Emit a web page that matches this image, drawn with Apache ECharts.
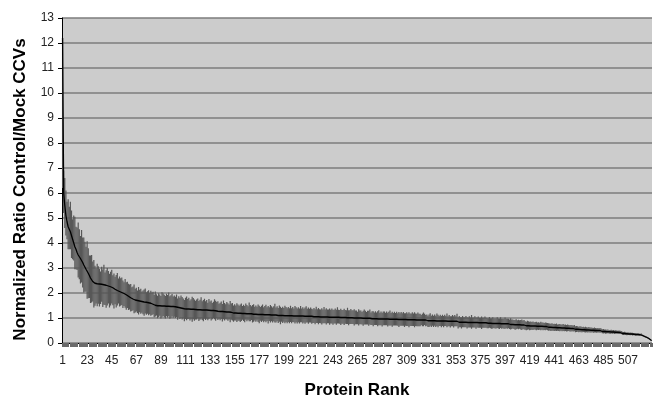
<!DOCTYPE html>
<html>
<head>
<meta charset="utf-8">
<script src="https://cdn.jsdelivr.net/npm/echarts@6/dist/echarts.min.js"></script>
<style>
html, body { margin: 0; padding: 0; background: #fff; }
#main { width: 655px; height: 399px; }
</style>
</head>
<body>
<div id="main"></div>
<script>
// normalized ratio per protein, ranked
var ratio = [
12.2, 6.0, 5.5, 5.1, 4.85, 4.65, 4.55, 4.45, 4.3, 4.15, 4.0, 3.85, 3.75, 3.62, 3.52, 3.45, 3.38, 3.32, 3.22, 3.12,
3.05, 2.95, 2.87, 2.79, 2.7, 2.6, 2.52, 2.46, 2.42, 2.39, 2.38, 2.37, 2.37, 2.36, 2.36, 2.35, 2.34, 2.33, 2.32, 2.31,
2.30, 2.28, 2.27, 2.25, 2.23, 2.21, 2.18, 2.15, 2.12, 2.10, 2.08, 2.06, 2.04, 2.02, 2.00, 1.98, 1.96, 1.93, 1.90, 1.87,
1.84, 1.81, 1.78, 1.76, 1.74, 1.72, 1.71, 1.70, 1.69, 1.68, 1.67, 1.66, 1.65, 1.64, 1.63, 1.63, 1.62, 1.61, 1.60, 1.59,
1.57, 1.55, 1.53, 1.51, 1.50, 1.49, 1.49, 1.49, 1.48, 1.48, 1.48, 1.48, 1.48, 1.47, 1.47, 1.47, 1.47, 1.46, 1.46, 1.46,
1.45, 1.45, 1.44, 1.43, 1.42, 1.41, 1.40, 1.39, 1.38, 1.37, 1.36, 1.36, 1.36, 1.36, 1.35, 1.35, 1.35, 1.35, 1.34, 1.34,
1.34, 1.33, 1.33, 1.33, 1.33, 1.32, 1.32, 1.32, 1.32, 1.32, 1.31, 1.31, 1.31, 1.30, 1.30, 1.30, 1.30, 1.29, 1.29, 1.27,
1.27, 1.26, 1.26, 1.26, 1.25, 1.25, 1.25, 1.24, 1.24, 1.24, 1.23, 1.23, 1.20, 1.20, 1.20, 1.20, 1.19, 1.19, 1.19, 1.19,
1.18, 1.18, 1.18, 1.18, 1.18, 1.17, 1.17, 1.17, 1.17, 1.17, 1.17, 1.15, 1.15, 1.15, 1.15, 1.14, 1.14, 1.14, 1.14, 1.14,
1.13, 1.13, 1.13, 1.13, 1.13, 1.13, 1.12, 1.12, 1.12, 1.12, 1.12, 1.12, 1.12, 1.10, 1.10, 1.10, 1.10, 1.10, 1.10, 1.09,
1.09, 1.09, 1.09, 1.09, 1.09, 1.09, 1.09, 1.08, 1.08, 1.08, 1.08, 1.08, 1.08, 1.08, 1.08, 1.08, 1.07, 1.07, 1.07, 1.07,
1.07, 1.07, 1.07, 1.07, 1.05, 1.05, 1.05, 1.05, 1.05, 1.05, 1.05, 1.04, 1.04, 1.04, 1.04, 1.04, 1.04, 1.04, 1.04, 1.03,
1.03, 1.03, 1.03, 1.03, 1.03, 1.03, 1.03, 1.03, 1.02, 1.02, 1.02, 1.02, 1.02, 1.02, 1.01, 1.01, 1.01, 1.01, 1.01, 1.01,
1.01, 1.00, 1.00, 1.00, 1.00, 1.00, 1.00, 1.00, 0.99, 0.99, 0.99, 0.99, 0.99, 0.99, 0.99, 0.99, 0.97, 0.97, 0.97, 0.97,
0.97, 0.97, 0.97, 0.96, 0.96, 0.96, 0.96, 0.96, 0.96, 0.96, 0.96, 0.96, 0.95, 0.95, 0.95, 0.95, 0.95, 0.95, 0.95, 0.95,
0.94, 0.94, 0.94, 0.94, 0.94, 0.94, 0.94, 0.94, 0.93, 0.93, 0.93, 0.93, 0.93, 0.93, 0.93, 0.93, 0.93, 0.92, 0.92, 0.92,
0.92, 0.92, 0.92, 0.92, 0.92, 0.92, 0.89, 0.89, 0.89, 0.89, 0.89, 0.89, 0.89, 0.89, 0.89, 0.88, 0.88, 0.88, 0.88, 0.88,
0.88, 0.88, 0.88, 0.88, 0.88, 0.87, 0.87, 0.87, 0.87, 0.87, 0.87, 0.87, 0.87, 0.87, 0.83, 0.83, 0.83, 0.83, 0.83, 0.83,
0.83, 0.83, 0.83, 0.82, 0.82, 0.82, 0.82, 0.82, 0.82, 0.82, 0.82, 0.82, 0.81, 0.81, 0.81, 0.81, 0.81, 0.81, 0.81, 0.81,
0.79, 0.79, 0.79, 0.79, 0.79, 0.78, 0.78, 0.78, 0.78, 0.78, 0.78, 0.78, 0.78, 0.77, 0.77, 0.77, 0.77, 0.77, 0.77, 0.77,
0.74, 0.74, 0.74, 0.74, 0.74, 0.73, 0.73, 0.73, 0.73, 0.73, 0.72, 0.72, 0.72, 0.72, 0.69, 0.69, 0.69, 0.69, 0.69, 0.68,
0.68, 0.68, 0.68, 0.68, 0.67, 0.67, 0.67, 0.67, 0.67, 0.67, 0.66, 0.66, 0.66, 0.66, 0.66, 0.63, 0.63, 0.63, 0.63, 0.62,
0.62, 0.62, 0.62, 0.61, 0.61, 0.61, 0.61, 0.60, 0.60, 0.60, 0.60, 0.59, 0.59, 0.59, 0.59, 0.58, 0.58, 0.58, 0.58, 0.55,
0.55, 0.55, 0.54, 0.54, 0.54, 0.53, 0.53, 0.53, 0.53, 0.52, 0.52, 0.52, 0.52, 0.51, 0.51, 0.51, 0.51, 0.50, 0.50, 0.50,
0.50, 0.50, 0.50, 0.46, 0.46, 0.46, 0.45, 0.45, 0.45, 0.45, 0.44, 0.44, 0.44, 0.44, 0.43, 0.43, 0.43, 0.43, 0.42, 0.42,
0.42, 0.38, 0.38, 0.38, 0.37, 0.37, 0.37, 0.36, 0.36, 0.36, 0.35, 0.35, 0.35, 0.34, 0.34, 0.34, 0.33, 0.33, 0.33, 0.30,
0.28, 0.26, 0.24, 0.22, 0.20, 0.17, 0.14, 0.10
];

// error bar, above the point
var errUp = [
0, 0.9, 1.1, 1.0, 0.8, 1.1, 0.9, 1.2, 1.0, 0.8, 1.1, 1.2, 0.9, 1.0, 1.3, 1.1, 0.9, 1.2, 1.0, 1.1,
1.0, 0.9, 1.2, 1.0, 0.8, 0.9, 1.0, 0.8, 0.9, 0.7, 0.6, 0.8, 0.7, 0.6, 0.5, 0.7, 0.6, 0.8, 0.5, 0.6,
0.7, 0.6, 0.5, 0.6, 0.7, 0.5, 0.6, 0.5, 0.6, 0.7, 0.5, 0.6, 0.55, 0.6, 0.5, 0.45, 0.6, 0.5, 0.55, 0.5,
0.5, 0.55, 0.45, 0.5, 0.6, 0.45, 0.5, 0.4, 0.55, 0.45, 0.5, 0.4, 0.45, 0.5, 0.55, 0.4, 0.45, 0.5, 0.4, 0.5,
0.45, 0.5, 0.4, 0.55, 0.45, 0.4, 0.5, 0.45, 0.4, 0.55, 0.5, 0.45, 0.4, 0.5, 0.45, 0.55, 0.4, 0.45, 0.5, 0.4,
0.45, 0.4, 0.5, 0.35, 0.45, 0.4, 0.5, 0.45, 0.4, 0.35, 0.45, 0.5, 0.4, 0.45, 0.35, 0.4, 0.5, 0.45, 0.4, 0.35,
0.4, 0.45, 0.35, 0.4, 0.5, 0.35, 0.4, 0.45, 0.35, 0.4, 0.3, 0.45, 0.35, 0.4, 0.3, 0.35, 0.45, 0.4, 0.35, 0.4,
0.3, 0.35, 0.4, 0.3, 0.45, 0.35, 0.3, 0.4, 0.35, 0.3, 0.45, 0.35, 0.4, 0.3, 0.35, 0.3, 0.4, 0.35, 0.3, 0.35,
0.4, 0.3, 0.35, 0.3, 0.4, 0.35, 0.3, 0.45, 0.35, 0.3, 0.35, 0.4, 0.3, 0.35, 0.3, 0.4, 0.35, 0.3, 0.35, 0.4,
0.3, 0.35, 0.4, 0.3, 0.35, 0.3, 0.4, 0.35, 0.3, 0.35, 0.45, 0.3, 0.35, 0.3, 0.4, 0.35, 0.3, 0.35, 0.3, 0.4,
0.35, 0.3, 0.35, 0.3, 0.4, 0.3, 0.35, 0.3, 0.4, 0.35, 0.3, 0.35, 0.3, 0.4, 0.3, 0.35, 0.3, 0.35, 0.4, 0.3,
0.35, 0.3, 0.35, 0.3, 0.3, 0.35, 0.3, 0.4, 0.3, 0.35, 0.3, 0.3, 0.35, 0.3, 0.4, 0.3, 0.35, 0.3, 0.3, 0.35,
0.3, 0.35, 0.3, 0.3, 0.35, 0.3, 0.4, 0.3, 0.3, 0.35, 0.3, 0.3, 0.35, 0.3, 0.3, 0.4, 0.3, 0.3, 0.35, 0.3,
0.3, 0.35, 0.3, 0.3, 0.25, 0.35, 0.3, 0.3, 0.25, 0.3, 0.35, 0.3, 0.25, 0.3, 0.3, 0.35, 0.25, 0.3, 0.3, 0.25,
0.3, 0.25, 0.3, 0.35, 0.25, 0.3, 0.25, 0.3, 0.3, 0.25, 0.3, 0.25, 0.3, 0.35, 0.25, 0.3, 0.25, 0.3, 0.25, 0.3,
0.25, 0.3, 0.25, 0.3, 0.25, 0.3, 0.25, 0.25, 0.3, 0.25, 0.3, 0.25, 0.25, 0.3, 0.25, 0.3, 0.25, 0.25, 0.3, 0.25,
0.25, 0.2, 0.25, 0.3, 0.25, 0.2, 0.25, 0.2, 0.25, 0.3, 0.2, 0.25, 0.2, 0.25, 0.2, 0.3, 0.25, 0.2, 0.25, 0.2,
0.25, 0.2, 0.25, 0.2, 0.3, 0.2, 0.25, 0.2, 0.2, 0.25, 0.2, 0.25, 0.2, 0.3, 0.2, 0.25, 0.2, 0.2, 0.25, 0.2,
0.2, 0.25, 0.2, 0.2, 0.25, 0.2, 0.3, 0.2, 0.2, 0.25, 0.2, 0.2, 0.25, 0.2, 0.2, 0.25, 0.2, 0.2, 0.25, 0.2,
0.2, 0.2, 0.25, 0.2, 0.2, 0.25, 0.2, 0.2, 0.2, 0.25, 0.2, 0.2, 0.25, 0.2, 0.2, 0.2, 0.25, 0.2, 0.2, 0.2,
0.2, 0.25, 0.2, 0.2, 0.18, 0.2, 0.22, 0.18, 0.2, 0.18, 0.2, 0.22, 0.18, 0.2, 0.18, 0.16, 0.2, 0.18, 0.16, 0.18,
0.16, 0.18, 0.15, 0.16, 0.18, 0.15, 0.16, 0.14, 0.18, 0.15, 0.16, 0.14, 0.16, 0.15, 0.14, 0.16, 0.15, 0.14, 0.16, 0.14,
0.15, 0.14, 0.16, 0.13, 0.14, 0.15, 0.13, 0.14, 0.16, 0.13, 0.14, 0.13, 0.15, 0.13, 0.12, 0.14, 0.13, 0.12, 0.14, 0.12,
0.13, 0.12, 0.11, 0.13, 0.12, 0.11, 0.12, 0.1, 0.12, 0.11, 0.1, 0.12, 0.1, 0.11, 0.1, 0.09, 0.11, 0.1, 0.09, 0.1,
0.09, 0.1, 0.08, 0.09, 0.1, 0.08, 0.09, 0.08, 0.09, 0.07, 0.08, 0.09, 0.07, 0.08, 0.07, 0.08, 0.07, 0.06, 0.08, 0.07,
0.06, 0.07, 0.06, 0.07, 0.06, 0.05, 0.06, 0.05, 0.06, 0.05, 0.06, 0.05, 0.04, 0.05, 0.04, 0.05, 0.04, 0.04, 0.05, 0.04,
0.04, 0.03, 0.04, 0.03, 0.03, 0.02, 0.02, 0.02
];

// error bar, below the point
var errDown = [
6.0, 0.8, 0.9, 0.8, 0.7, 0.9, 0.8, 0.7, 0.9, 0.8, 0.7, 0.9, 0.8, 0.7, 0.9, 0.9, 1.0, 0.9, 1.0, 1.1,
1.0, 0.9, 1.1, 1.0, 0.9, 1.0, 0.9, 0.8, 1.0, 0.9, 0.8, 0.9, 0.8, 0.9, 0.8, 0.7, 0.9, 0.8, 0.8, 0.9,
0.8, 0.7, 0.85, 0.75, 0.65, 0.7, 0.8, 0.6, 0.7, 0.6, 0.5, 0.6, 0.55, 0.5, 0.6, 0.5, 0.55, 0.6, 0.5, 0.55,
0.5, 0.55, 0.5, 0.45, 0.55, 0.5, 0.45, 0.5, 0.55, 0.45, 0.5, 0.45, 0.5, 0.55, 0.45, 0.5, 0.45, 0.5, 0.45, 0.5,
0.45, 0.4, 0.5, 0.45, 0.4, 0.5, 0.45, 0.4, 0.5, 0.45, 0.4, 0.45, 0.5, 0.4, 0.45, 0.4, 0.5, 0.45, 0.4, 0.45,
0.4, 0.45, 0.4, 0.5, 0.4, 0.45, 0.4, 0.45, 0.4, 0.5, 0.4, 0.45, 0.4, 0.4, 0.45, 0.4, 0.5, 0.4, 0.45, 0.4,
0.4, 0.35, 0.45, 0.4, 0.35, 0.4, 0.45, 0.35, 0.4, 0.35, 0.4, 0.35, 0.3, 0.4, 0.35, 0.3, 0.35, 0.4, 0.3, 0.35,
0.3, 0.35, 0.3, 0.4, 0.3, 0.35, 0.3, 0.3, 0.35, 0.3, 0.4, 0.3, 0.3, 0.35, 0.3, 0.3, 0.35, 0.3, 0.3, 0.35,
0.3, 0.25, 0.3, 0.35, 0.25, 0.3, 0.25, 0.3, 0.3, 0.25, 0.35, 0.3, 0.25, 0.3, 0.25, 0.3, 0.35, 0.25, 0.3, 0.25,
0.3, 0.25, 0.3, 0.25, 0.35, 0.25, 0.3, 0.25, 0.3, 0.25, 0.3, 0.3, 0.25, 0.3, 0.25, 0.35, 0.25, 0.3, 0.25, 0.3,
0.25, 0.3, 0.25, 0.3, 0.25, 0.3, 0.25, 0.25, 0.3, 0.25, 0.3, 0.25, 0.3, 0.25, 0.25, 0.3, 0.25, 0.3, 0.25, 0.25,
0.3, 0.25, 0.25, 0.3, 0.25, 0.25, 0.3, 0.25, 0.25, 0.3, 0.25, 0.25, 0.3, 0.25, 0.25, 0.25, 0.3, 0.25, 0.25, 0.3,
0.25, 0.25, 0.3, 0.25, 0.25, 0.3, 0.25, 0.25, 0.25, 0.3, 0.25, 0.25, 0.3, 0.25, 0.25, 0.25, 0.3, 0.25, 0.25, 0.25,
0.25, 0.3, 0.25, 0.25, 0.25, 0.3, 0.25, 0.25, 0.25, 0.3, 0.25, 0.25, 0.25, 0.25, 0.3, 0.25, 0.25, 0.25, 0.3, 0.25,
0.25, 0.25, 0.3, 0.25, 0.25, 0.25, 0.3, 0.25, 0.25, 0.25, 0.25, 0.3, 0.25, 0.25, 0.25, 0.3, 0.25, 0.25, 0.25, 0.25,
0.25, 0.3, 0.25, 0.25, 0.25, 0.25, 0.3, 0.25, 0.25, 0.25, 0.3, 0.25, 0.25, 0.25, 0.25, 0.3, 0.25, 0.25, 0.25, 0.25,
0.25, 0.2, 0.25, 0.25, 0.2, 0.25, 0.2, 0.25, 0.25, 0.2, 0.25, 0.2, 0.25, 0.2, 0.25, 0.2, 0.25, 0.2, 0.2, 0.25,
0.2, 0.25, 0.2, 0.2, 0.25, 0.2, 0.2, 0.25, 0.2, 0.2, 0.25, 0.2, 0.2, 0.2, 0.25, 0.2, 0.2, 0.25, 0.2, 0.2,
0.2, 0.2, 0.25, 0.2, 0.2, 0.2, 0.25, 0.2, 0.2, 0.2, 0.25, 0.2, 0.2, 0.2, 0.2, 0.25, 0.2, 0.2, 0.2, 0.2,
0.2, 0.2, 0.18, 0.2, 0.22, 0.2, 0.18, 0.2, 0.2, 0.18, 0.2, 0.22, 0.18, 0.2, 0.18, 0.2, 0.2, 0.18, 0.2, 0.18,
0.18, 0.2, 0.18, 0.16, 0.18, 0.2, 0.18, 0.16, 0.18, 0.16, 0.18, 0.2, 0.16, 0.18, 0.16, 0.18, 0.16, 0.15, 0.18, 0.16,
0.15, 0.16, 0.14, 0.15, 0.16, 0.14, 0.15, 0.14, 0.16, 0.14, 0.15, 0.14, 0.15, 0.13, 0.15, 0.14, 0.13, 0.15, 0.14, 0.13,
0.14, 0.13, 0.14, 0.12, 0.13, 0.14, 0.12, 0.13, 0.12, 0.13, 0.12, 0.13, 0.12, 0.11, 0.13, 0.12, 0.11, 0.12, 0.11, 0.12,
0.11, 0.1, 0.11, 0.1, 0.11, 0.1, 0.09, 0.1, 0.11, 0.09, 0.1, 0.09, 0.1, 0.09, 0.08, 0.1, 0.09, 0.08, 0.09, 0.08,
0.08, 0.09, 0.08, 0.07, 0.08, 0.07, 0.08, 0.07, 0.06, 0.07, 0.08, 0.06, 0.07, 0.06, 0.07, 0.06, 0.06, 0.07, 0.06, 0.05,
0.06, 0.05, 0.06, 0.05, 0.05, 0.06, 0.05, 0.04, 0.05, 0.04, 0.05, 0.04, 0.04, 0.05, 0.04, 0.04, 0.04, 0.03, 0.04, 0.03,
0.03, 0.03, 0.03, 0.02, 0.02, 0.02, 0.02, 0.02
];

var ranks = [];
var bars = [];
for (var i = 0; i < ratio.length; i++) {
    ranks.push(String(i + 1));
    bars.push([i, ratio[i] - errDown[i], ratio[i] + errUp[i]]);
}

var font = 'Arial, "Liberation Sans", sans-serif';

var myChart = echarts.init(document.getElementById('main'));
var option = {
    animation: false,
    backgroundColor: '#fff',
    grid: {
        left: 62,
        right: 3,
        top: 18,
        bottom: 56,
        outerBoundsMode: 'none',
        containLabel: false,
        show: true,
        backgroundColor: '#cccccc',
        borderWidth: 0
    },
    xAxis: {
        type: 'category',
        data: ranks,
        boundaryGap: true,
        name: 'Protein Rank',
        nameLocation: 'middle',
        nameGap: 39,
        nameTextStyle: {
            fontFamily: font,
            fontWeight: 'bold',
            fontSize: 17,
            color: '#000'
        },
        axisLine: {
            lineStyle: { color: '#000', width: 1 }
        },
        axisTick: {
            show: true,
            interval: 0,
            length: 4,
            lineStyle: { color: '#6a6a6a' }
        },
        axisLabel: {
            interval: 21,
            color: '#222',
            fontFamily: font,
            fontSize: 12,
            margin: 12
        },
        splitLine: { show: false }
    },
    yAxis: {
        type: 'value',
        min: 0,
        max: 13,
        interval: 1,
        name: 'Normalized Ratio Control/Mock CCVs',
        nameLocation: 'middle',
        nameGap: 33,
        nameTextStyle: {
            fontFamily: font,
            fontWeight: 'bold',
            fontSize: 17,
            color: '#000',
            padding: [0, 18, 0, 0]
        },
        axisLine: {
            show: true,
            lineStyle: { color: '#000', width: 1 }
        },
        axisTick: {
            show: true,
            length: 4,
            lineStyle: { color: '#000' }
        },
        axisLabel: {
            color: '#222',
            fontFamily: font,
            fontSize: 12,
            margin: 8
        },
        splitLine: {
            show: true,
            lineStyle: { color: '#7c7c7c', width: 1.5 }
        }
    },
    series: [{
        type: 'custom',
        name: 'error',
        data: bars,
        encode: { x: 0, y: [1, 2] },
        z: 2,
        renderItem: function (params, api) {
            var lo = api.coord([api.value(0), api.value(1)]);
            var hi = api.coord([api.value(0), api.value(2)]);
            return {
                type: 'line',
                shape: { x1: lo[0], y1: lo[1], x2: hi[0], y2: hi[1] },
                style: { stroke: '#575757', lineWidth: 1.2 }
            };
        }
    }, {
        type: 'line',
        name: 'ratio',
        data: ratio,
        z: 3,
        showSymbol: false,
        symbol: 'none',
        lineStyle: { color: '#000', width: 1.3 }
    }]
};
myChart.setOption(option);
</script>
</body>
</html>
